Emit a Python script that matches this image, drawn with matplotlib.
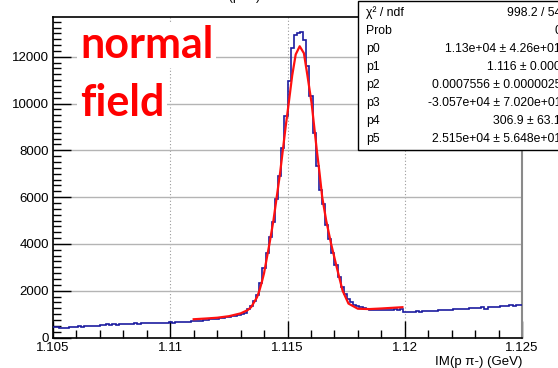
import numpy as np
import matplotlib.pyplot as plt
from matplotlib.ticker import MultipleLocator, FuncFormatter
from matplotlib.patches import Rectangle

plt.rcParams['font.family'] = ['Liberation Sans', 'DejaVu Sans']

##### DATA #####
x_min, x_max, n_bins = 1.105, 1.125, 150

counts = [470, 440, 410, 400, 420, 445, 460, 470, 480, 470,
          490, 500, 485, 510, 500, 520, 535, 560, 545, 570,
          555, 560, 575, 580, 570, 590, 600, 585, 610, 600,
          620, 630, 615, 640, 635, 625, 640, 650, 630, 645,
          660, 670, 655, 680, 690, 690, 700, 720, 730, 760,
          770, 790, 810, 830, 850, 860, 890, 910, 940, 960,
          1000, 1060, 1200, 1350, 1550, 1800, 2350, 2950, 3600, 4300,
          4950, 5900, 6900, 8100, 9456, 10955, 12385, 12912, 12998, 13054,
          12710, 11598, 10343, 8745, 7315, 6300, 5700, 4800, 4200, 3600,
          3100, 2600, 2150, 1850, 1650, 1500, 1400, 1330, 1300, 1280,
          1200, 1180, 1170, 1190, 1170, 1160, 1180, 1190, 1170, 1200,
          1190, 1220, 1070, 1080, 1100, 1110, 1120, 1110, 1130, 1140,
          1140, 1150, 1140, 1160, 1165, 1180, 1190, 1175, 1200, 1200,
          1210, 1205, 1230, 1250, 1270, 1280, 1265, 1300, 1200, 1290,
          1300, 1295, 1310, 1330, 1340, 1350, 1370, 1360, 1390, 1410]

fit_x = [1.1110, 1.1115, 1.1120, 1.1125, 1.1130, 1.1133, 1.11345, 1.1136,
         1.1137, 1.1138, 1.1139, 1.1140, 1.1141, 1.11423, 1.11440, 1.11454,
         1.11468, 1.11480, 1.11492, 1.11505, 1.11520, 1.11535, 1.11552,
         1.11570, 1.11585, 1.11603, 1.11614, 1.11625, 1.11637, 1.11648,
         1.11665, 1.11686, 1.11710, 1.11735, 1.11760, 1.11800, 1.11850,
         1.11900, 1.11950, 1.11990]
fit_y = [780, 810, 845, 910, 1030, 1170, 1300, 1550,
         1720, 2000, 2350, 2750, 3300, 4000, 5000, 6000,
         7000, 8000, 9000, 10000, 11200, 12100, 12450,
         12150, 11200, 10000, 9000, 8000, 7000, 6000,
         5000, 4000, 3000, 2000, 1450, 1230, 1215,
         1240, 1270, 1295]

stat_names = ["χ² / ndf", "Prob", "p0", "p1", "p2", "p3", "p4", "p5"]
stat_values = ["998.2 / 54", "0", "1.13e+04 ± 4.26e+01", "1.116 ± 0.000",
               "0.0007556 ± 0.0000025", "-3.057e+04 ± 7.020e+01",
               "306.9 ± 63.1", "2.515e+04 ± 5.648e+01"]

##### PLOT #####
W, H = 558, 368
fig = plt.figure(figsize=(W / 100, H / 100), dpi=100)
ax = fig.add_axes([53 / W, 1 - 337.5 / H, (522 - 53) / W, (337.5 - 17) / H])

edges = np.linspace(x_min, x_max, n_bins + 1)
ax.stairs(counts, edges, color='#1c1ca0', lw=1.2, baseline=None, zorder=3)
ax.plot(fit_x, fit_y, color='#ff1010', lw=1.6, zorder=4)

ax.set_xlim(x_min, x_max)
ax.set_ylim(0, 13700)

ax.xaxis.set_major_locator(MultipleLocator(0.005))
ax.xaxis.set_minor_locator(MultipleLocator(0.001))
ax.yaxis.set_major_locator(MultipleLocator(2000))
ax.yaxis.set_minor_locator(MultipleLocator(250))
fmt = FuncFormatter(lambda v, p: '%g' % round(v, 6))
ax.xaxis.set_major_formatter(fmt)
ax.yaxis.set_major_formatter(fmt)

ax.tick_params(which='both', direction='in', top=False, right=False, width=1)
ax.tick_params(axis='x', which='major', length=12, labelsize=9.5, pad=3)
ax.tick_params(axis='y', which='major', length=13, labelsize=9.5, pad=3)
ax.tick_params(which='minor', length=6)

ax.yaxis.grid(True, color='#b4b4b4', lw=1, ls='-')
ax.xaxis.grid(True, color='#9a9a9a', lw=0.8, ls=(0, (1, 2)))
ax.set_axisbelow(True)
for s in ['left', 'bottom', 'top']:
    ax.spines[s].set_linewidth(1.2)
ax.spines['right'].set_color('#8a8a8a')
ax.spines['right'].set_linewidth(1.5)

ax.set_xlabel("IM(p π-) (GeV)", loc='right', fontsize=9.5, labelpad=2)

# red label with white background
for word, yb in [("normal", 58), ("field", 116)]:
    fig.text(80 / W, 1 - yb / H, word, color='red', fontsize=31,
             fontweight='bold', family=['Lato', 'DejaVu Sans'],
             ha='left', va='baseline',
             bbox=dict(facecolor='white', edgecolor='none', pad=2))

# clipped title at the very top
fig.text(215 / W, 1 - 3 / H, "IM(p π-)", fontsize=9, ha='left', va='bottom')

# stats box, running off the right edge
fig.add_artist(Rectangle((358 / W, 1 - 150 / H), 220 / W, 149 / H,
                         transform=fig.transFigure, facecolor='white',
                         edgecolor='black', lw=1, zorder=5))
for k, (name, val) in enumerate(zip(stat_names, stat_values)):
    yy = 1 - (13 + 18 * k) / H
    fig.text(366 / W, yy, name, fontsize=8.8, ha='left', va='center', zorder=6)
    fig.text(561 / W, yy, val, fontsize=8.8, ha='right', va='center', zorder=6)

plt.savefig('out.png', dpi=100)
